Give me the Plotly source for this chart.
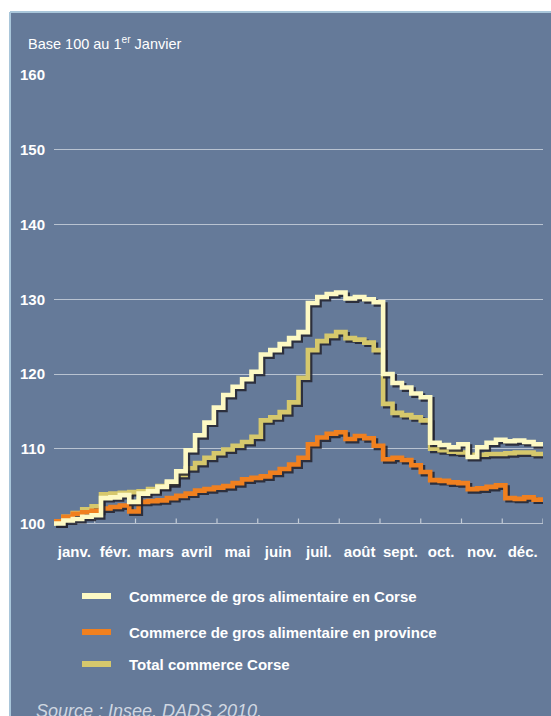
import plotly.graph_objects as go

# Weekly index values (base 100 on 1 January), week 0 .. week 52
corse_gros = [100.0, 100.4, 100.6, 100.9, 101.1, 103.4, 103.5, 103.8, 102.9, 104.0,
              104.3, 104.9, 105.6, 107.0, 109.8, 111.8, 113.5, 115.5, 117.2, 118.3,
              119.3, 120.3, 122.6, 123.2, 124.0, 124.8, 125.6, 129.5, 130.3, 130.7,
              130.9, 130.1, 130.3, 130.0, 129.6, 120.0, 118.8, 118.2, 117.4, 116.9,
              110.8, 110.5, 110.2, 110.6, 108.9, 110.2, 110.8, 111.2, 111.0, 111.1,
              110.9, 110.6, 110.4]
province_gros = [100.3, 100.9, 101.3, 101.5, 101.7, 102.0, 102.2, 102.4, 101.6, 102.9,
                 103.0, 103.1, 103.4, 103.7, 104.0, 104.4, 104.6, 104.8, 105.0, 105.4,
                 105.9, 106.1, 106.3, 106.8, 107.3, 107.9, 108.8, 110.6, 111.5, 112.0,
                 112.2, 111.3, 111.7, 111.4, 110.4, 108.6, 108.8, 108.5, 107.8, 106.9,
                 105.8, 105.7, 105.5, 105.4, 104.6, 104.7, 104.9, 105.1, 103.4, 103.3,
                 103.5, 103.2, 103.1]
total_corse = [100.0, 100.9, 101.4, 101.9, 102.3, 103.9, 104.0, 104.1, 104.2, 104.3,
               104.6, 105.0, 105.4, 106.5, 107.4, 108.1, 108.8, 109.4, 109.9, 110.4,
               110.9, 111.6, 113.8, 114.2, 114.9, 116.2, 119.5, 123.2, 124.4, 125.1,
               125.6, 124.8, 124.6, 124.2, 123.2, 116.0, 114.8, 114.5, 114.2, 113.8,
               110.0, 109.8, 109.6, 109.5, 109.2, 109.2, 109.3, 109.3, 109.4, 109.5,
               109.5, 109.3, 109.0]

months = ["janv.", "févr.", "mars", "avril", "mai", "juin", "juil.", "août",
          "sept.", "oct.", "nov.", "déc."]
y_ticks = [100, 110, 120, 130, 140, 150, 160]

series_names = ["Commerce de gros alimentaire en Corse",
                "Commerce de gros alimentaire en province",
                "Total commerce Corse"]
series_colors = ["#fdf9c4", "#f0801f", "#d6c86c"]

# x position of each week, in months (12 equal month slots)
weeks = list(range(len(corse_gros)))
x_month = [w * 12 / 52 for w in weeks]

W, H = 551, 716
PANEL = "#657a99"
SHADOW = "#23232e"
EDGE = "#a9c6da"
FONT = "Liberation Sans, Arial, sans-serif"
L, R, T, B = 54, 8, 75, 188
Y0, Y1 = 99.4, 160

plot_w = W - L - R
plot_h = H - T - B


def px_x(px):
    return (px - L) / plot_w


def px_y(py):
    return (H - B - py) / plot_h


fig = go.Figure()

# drop-shadow offsets (about 2 px right, 2 px down)
dx = 2.2 * 12 / plot_w
dy = 2.2 * (Y1 - Y0) / plot_h

draw_order = [(total_corse, 2), (province_gros, 1), (corse_gros, 0)]
for vals, idx in draw_order:
    fig.add_trace(go.Scatter(
        x=[v + dx for v in x_month], y=[v - dy for v in vals], mode="lines",
        line=dict(color=SHADOW, width=4.6, shape="hv"), opacity=0.85,
        hoverinfo="skip", showlegend=False))
    fig.add_trace(go.Scatter(
        x=x_month, y=vals, mode="lines", name=series_names[idx],
        line=dict(color=series_colors[idx], width=4.6, shape="hv"),
        showlegend=False))

shapes = [
    # panel covering the page below the title, light edge on top and left
    dict(type="rect", xref="paper", yref="paper",
         x0=px_x(10), x1=px_x(W + 5), y0=px_y(H + 5), y1=px_y(12),
         line=dict(width=0), fillcolor=PANEL, layer="below"),
    dict(type="line", xref="paper", yref="paper",
         x0=px_x(10), x1=px_x(W + 5), y0=px_y(12), y1=px_y(12),
         line=dict(color=EDGE, width=2), layer="below"),
    dict(type="line", xref="paper", yref="paper",
         x0=px_x(10), x1=px_x(10), y0=px_y(H + 5), y1=px_y(12),
         line=dict(color=EDGE, width=2), layer="below"),
]
# month boundary ticks on the base line
for m in range(1, 13):
    shapes.append(dict(type="line", xref="x", yref="y", x0=m, x1=m,
                       y0=100, y1=100 + 5 * (Y1 - Y0) / plot_h,
                       line=dict(color="#c3ccd8", width=1.2), layer="below"))

# legend drawn as swatches next to labels
legend_rows = [596, 632, 664]
annotations = []
for idx, row in enumerate(legend_rows):
    shapes.append(dict(type="line", xref="paper", yref="paper",
                       x0=px_x(82), x1=px_x(111), y0=px_y(row), y1=px_y(row),
                       line=dict(color=series_colors[idx], width=6)))
    annotations.append(dict(text="<b>" + series_names[idx] + "</b>",
                            x=px_x(127), y=px_y(row), xref="paper", yref="paper",
                            xanchor="left", yanchor="middle", showarrow=False,
                            font=dict(size=15, color="white", family=FONT)))

annotations += [
    dict(text="Base 100 au 1<sup>er</sup> Janvier", x=px_x(26), y=px_y(43),
         xref="paper", yref="paper", xanchor="left", yanchor="middle",
         showarrow=False, font=dict(size=14.5, color="white", family=FONT)),
    dict(text="<i>Source : Insee, DADS 2010.</i>", x=px_x(34), y=px_y(699),
         xref="paper", yref="paper", xanchor="left", yanchor="top",
         showarrow=False, font=dict(size=18, color="#d0d7e1", family=FONT)),
]

tick_font = dict(size=15, family=FONT, color="white", weight="bold")

fig.update_layout(
    width=W, height=H,
    margin=dict(l=L, r=R, t=T, b=B, pad=0),
    paper_bgcolor="white", plot_bgcolor=PANEL,
    font=dict(family=FONT, color="white"),
    xaxis=dict(range=[0, 12], tickvals=[m + 0.5 for m in range(12)], ticktext=months,
               showgrid=False, zeroline=False, showline=False, ticks="",
               tickfont=tick_font, ticklabelstandoff=13),
    yaxis=dict(range=[Y0, Y1], tickvals=y_ticks, ticktext=[str(v) for v in y_ticks],
               showgrid=True, gridcolor="#b9c3d1", gridwidth=1.2, zeroline=False,
               showline=False, ticks="", ticklabelstandoff=8, tickfont=tick_font),
    shapes=shapes,
    annotations=annotations,
    showlegend=False,
)

fig.write_html("out.html")
